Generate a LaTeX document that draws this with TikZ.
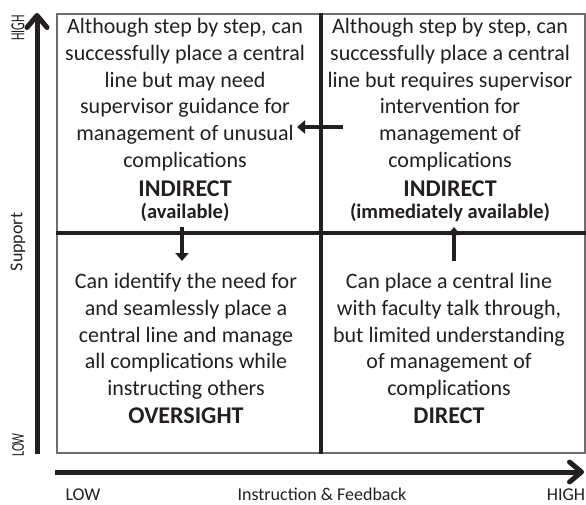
\documentclass[tikz,border=0pt]{standalone}
\usepackage{fontspec}
\setmainfont{Carlito}
\usetikzlibrary{arrows.meta}
\definecolor{ink}{HTML}{231F20}
\definecolor{frame}{HTML}{6D6E71}
% narrowed text for the ends of the vertical axis
\newcommand{\narrowed}[2]{\scalebox{#1}[1]{#2}}

\begin{document}
\begin{tikzpicture}[x=1pt,y=-1pt,
  body/.style={align=center,inner sep=0pt,anchor=north,text=ink,
    font=\fontsize{22}{26.8}\selectfont},
  title/.style={inner sep=0pt,anchor=base,text=ink,
    font=\fontsize{24}{28}\selectfont\bfseries},
  subtitle/.style={inner sep=0pt,anchor=base,text=ink,
    font=\fontsize{20.5}{24}\selectfont\bfseries},
  axislabel/.style={inner sep=0pt,text=ink,font=\fontsize{18}{21}\selectfont},
  sidelabel/.style={axislabel,rotate=90},
  divider/.style={line width=4pt,draw=ink},
  axis/.style={line width=5pt,draw=ink,
    -{Straight Barb[length=12pt,width=20pt,round]}},
  move/.style={line width=4.5pt,draw=ink,
    -{Triangle[length=8pt,width=13pt]}}]
\useasboundingbox (0,0) rectangle (586,504);

% frame of the four quadrants
\node[draw=frame,line width=1.5pt,minimum width=528pt,minimum height=439pt,
  inner sep=0pt,anchor=north west] (grid) at (56,13) {};
\draw[divider] (grid.north) -- (grid.south);
\draw[divider] (grid.west) -- (grid.east);

% axes
\coordinate (ybottom) at (37,454);
\coordinate (ytop) at (37,13);
\coordinate (xleft) at (55,472);
\coordinate (xright) at (584,472);
\draw[axis] (ybottom) -- (ytop);
\draw[axis] (xleft) -- (xright);

\node[sidelabel,font=\fontsize{20}{24}\selectfont] (yhigh) at (18,28) {\narrowed{0.6}{HIGH}};
\node[sidelabel] (ysupport) at (18,242) {Support};
\node[sidelabel] (ylow) at (18,445) {\narrowed{0.68}{LOW}};
\node[axislabel,anchor=base] (xlow) at (83,500) {LOW};
\node[axislabel,anchor=base] (xname) at (322,500) {Instruction \& Feedback};
\node[axislabel,anchor=base] (xhigh) at (566,500) {HIGH};

% upper left quadrant
\node[body] (tlbody) at (185,18) {Although step by step, can\\successfully place a central\\line but may need\\supervisor guidance for\\management of unusual\\complications};
\node[title] (tltitle) at (185,196) {INDIRECT};
\node[subtitle] (tlsub) at (185,218) {(available)};

% upper right quadrant
\node[body] (trbody) at (450,18) {Although step by step, can\\successfully place a central\\line but requires supervisor\\intervention for\\management of\\complications};
\node[title] (trtitle) at (450,196) {INDIRECT};
\node[subtitle] (trsub) at (450,218) {(immediately available)};

% lower left quadrant
\node[body] (blbody) at (186,273) {Can identify the need for\\and seamlessly place a\\central line and manage\\all complications while\\instructing others};
\node[title] (bltitle) at (186,423) {OVERSIGHT};

% lower right quadrant
\node[body] (brbody) at (449,273) {Can place a central line\\with faculty talk through,\\but limited understanding\\of management of\\complications};
\node[title] (brtitle) at (449,423) {DIRECT};

% transitions between quadrants
\coordinate (m1s) at (343,127);
\coordinate (m1e) at (297,127);
\coordinate (m2s) at (182,227);
\coordinate (m2e) at (182,261);
\coordinate (m3s) at (454,261);
\coordinate (m3e) at (454,227);
\draw[move] (m1s) -- (m1e);
\draw[move] (m2s) -- (m2e);
\draw[move] (m3s) -- (m3e);
\end{tikzpicture}
\end{document}
